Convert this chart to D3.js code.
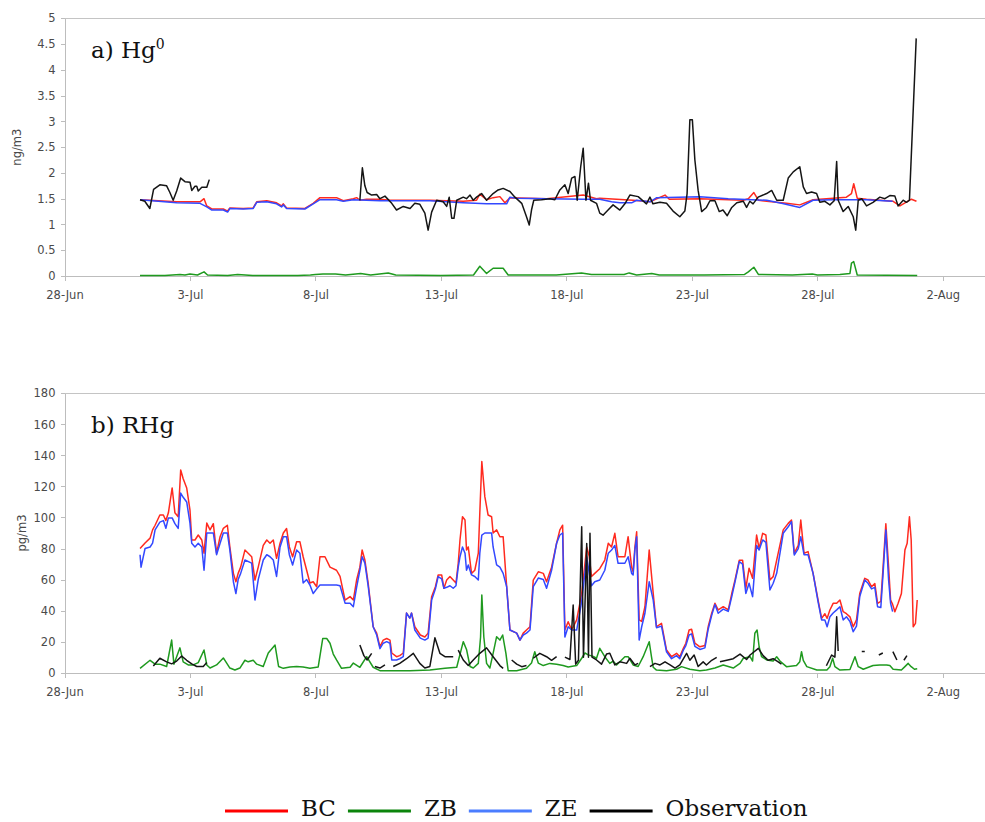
<!DOCTYPE html>
<html>
<head>
<meta charset="utf-8">
<script src="https://cdn.jsdelivr.net/npm/d3@7"></script>
<style>
  body { margin: 0; background: #fff; }
  svg { display: block; }
  .axis path, .axis line { stroke: #bdbdbd; shape-rendering: crispEdges; }
  .axis text { font-family: "DejaVu Sans", Verdana, sans-serif; font-size: 11.5px; fill: #4a4a4a; }
  .ylab { font-family: "DejaVu Sans", Verdana, sans-serif; font-size: 11.5px; fill: #4a4a4a; }
  .title, .legend text { font-family: "DejaVu Serif", serif; fill: #111; }
</style>
</head>
<body>
<svg id="chart" width="985" height="822"></svg>
<script>
// days are given as day-of-July (1 = 1-Jul 00:00), null = no data
const tickLabels = ['28-Jun', '3-Jul', '8-Jul', '13-Jul', '18-Jul', '23-Jul', '28-Jul', '2-Aug'];
const seriesNames = ['BC', 'ZB', 'ZE', 'Observation'];
const hgTicks = [0, 0.5, 1, 1.5, 2, 2.5, 3, 3.5, 4, 4.5, 5];
const rhgTicks = [0, 20, 40, 60, 80, 100, 120, 140, 160, 180];

// a) Hg0, ng/m3
const hgBC = [[1.01,1.48],[2.47,1.44],[3.40,1.44],[3.56,1.50],[3.67,1.36],[3.87,1.30],[4.33,1.30],[4.50,1.26],[4.59,1.32],[5.12,1.31],[5.52,1.32],[5.66,1.44],[6.06,1.46],[6.45,1.42],[6.65,1.36],[6.72,1.40],[6.85,1.32],[7.58,1.31],[7.91,1.41],[8.18,1.52],[8.84,1.52],[9.11,1.46],[9.51,1.50],[9.64,1.52],[9.77,1.47],[10.04,1.49],[10.57,1.49],[10.97,1.47],[12.56,1.47],[13.89,1.45],[14.42,1.47],[14.55,1.59],[14.82,1.48],[15.08,1.52],[15.35,1.54],[15.55,1.42],[15.75,1.52],[17.21,1.50],[18.67,1.57],[19.20,1.50],[19.33,1.51],[20.66,1.47],[21.33,1.44],[21.93,1.57],[22.10,1.49],[23.32,1.50],[25.05,1.47],[25.25,1.50],[25.47,1.62],[25.65,1.47],[25.98,1.45],[26.77,1.41],[27.30,1.38],[27.83,1.48],[28.63,1.51],[29.16,1.53],[29.36,1.60],[29.45,1.79],[29.59,1.51],[29.96,1.49],[31.02,1.45],[31.29,1.36],[31.75,1.49],[31.95,1.45]];
const hgZB = [[1.01,0.01],[2.0,0.01],[2.6,0.03],[2.8,0.02],[3.0,0.04],[3.3,0.02],[3.56,0.08],[3.7,0.02],[4.5,0.01],[4.9,0.03],[5.5,0.01],[7.3,0.01],[7.8,0.02],[8.0,0.03],[8.3,0.04],[8.8,0.04],[9.2,0.02],[9.8,0.05],[10.2,0.02],[10.9,0.06],[11.2,0.02],[13.0,0.01],[14.3,0.02],[14.55,0.19],[14.82,0.05],[15.08,0.15],[15.48,0.15],[15.68,0.02],[16.5,0.02],[17.6,0.02],[18.6,0.06],[19.0,0.03],[20.3,0.03],[20.5,0.06],[20.8,0.02],[21.4,0.05],[21.7,0.02],[23.5,0.02],[25.1,0.03],[25.25,0.08],[25.47,0.17],[25.65,0.03],[27.0,0.02],[27.8,0.04],[28.0,0.02],[28.9,0.03],[29.3,0.05],[29.36,0.25],[29.45,0.28],[29.59,0.02],[31.98,0.01]];
const hgZE = [[1.01,1.48],[2.47,1.42],[3.40,1.41],[3.67,1.34],[3.87,1.28],[4.33,1.28],[4.50,1.24],[4.59,1.31],[5.12,1.30],[5.52,1.31],[5.66,1.43],[6.06,1.44],[6.45,1.40],[6.65,1.34],[6.72,1.38],[6.85,1.31],[7.58,1.30],[7.91,1.40],[8.18,1.48],[8.84,1.48],[9.11,1.45],[9.51,1.48],[10.57,1.46],[12.56,1.46],[13.89,1.42],[14.82,1.40],[15.62,1.40],[15.75,1.53],[16.02,1.51],[17.21,1.50],[18.67,1.49],[19.33,1.49],[19.80,1.44],[20.13,1.42],[20.60,1.42],[20.80,1.47],[21.33,1.44],[21.60,1.52],[23.32,1.54],[24.45,1.50],[25.98,1.47],[26.57,1.41],[27.30,1.33],[27.83,1.47],[28.63,1.48],[29.96,1.48],[31.00,1.45]];
const hgObs = [[1.01,1.48],[1.20,1.45],[1.40,1.31],[1.55,1.68],[1.80,1.77],[2.07,1.75],[2.20,1.62],[2.33,1.47],[2.47,1.65],[2.63,1.90],[2.80,1.83],[3.00,1.82],[3.07,1.66],[3.20,1.74],[3.27,1.74],[3.33,1.65],[3.47,1.72],[3.67,1.72],[3.77,1.87],[3.80,null],
  [9.77,1.47],[9.87,2.10],[9.97,1.75],[10.06,1.62],[10.24,1.57],[10.44,1.58],[10.57,1.50],[10.77,1.55],[11.04,1.41],[11.23,1.28],[11.50,1.35],[11.77,1.31],[11.96,1.41],[12.16,1.39],[12.36,1.22],[12.49,0.89],[12.63,1.24],[12.83,1.47],[13.09,1.44],[13.23,1.35],[13.33,1.53],[13.43,1.12],[13.52,1.12],[13.63,1.47],[13.89,1.53],[14.02,1.50],[14.16,1.57],[14.29,1.47],[14.42,1.53],[14.62,1.60],[14.82,1.47],[15.08,1.60],[15.28,1.67],[15.48,1.70],[15.75,1.64],[15.95,1.53],[16.22,1.41],[16.41,1.15],[16.52,0.99],[16.61,1.28],[16.70,1.47],[17.01,1.48],[17.34,1.50],[17.54,1.48],[17.74,1.67],[17.94,1.77],[18.07,1.60],[18.21,1.90],[18.34,1.93],[18.43,1.47],[18.57,2.12],[18.67,2.48],[18.78,1.47],[18.88,1.80],[18.96,1.47],[19.20,1.41],[19.33,1.22],[19.46,1.18],[19.66,1.28],[19.86,1.38],[20.13,1.28],[20.33,1.40],[20.53,1.57],[20.86,1.54],[21.19,1.40],[21.33,1.53],[21.45,1.40],[21.73,1.43],[21.99,1.41],[22.25,1.26],[22.52,1.15],[22.72,1.26],[22.81,1.60],[22.92,3.03],[23.02,3.03],[23.12,2.25],[23.25,1.66],[23.39,1.25],[23.58,1.33],[23.72,1.46],[23.92,1.46],[24.09,1.25],[24.24,1.28],[24.41,1.17],[24.59,1.33],[24.79,1.42],[25.05,1.45],[25.18,1.33],[25.31,1.45],[25.44,1.40],[25.64,1.53],[25.98,1.60],[26.18,1.66],[26.38,1.47],[26.64,1.47],[26.84,1.90],[27.04,2.02],[27.30,2.12],[27.44,1.73],[27.57,1.60],[27.77,1.63],[27.97,1.60],[28.10,1.43],[28.30,1.45],[28.50,1.38],[28.67,1.46],[28.77,2.22],[28.83,1.47],[29.03,1.25],[29.23,1.35],[29.43,1.15],[29.53,0.89],[29.63,1.47],[29.77,1.50],[29.96,1.36],[30.22,1.43],[30.49,1.53],[30.69,1.50],[30.89,1.56],[31.09,1.55],[31.22,1.36],[31.42,1.47],[31.55,1.43],[31.67,1.47],[31.94,4.61]];

// b) RHg, pg/m3
const rhgBC = [[1.01,80],[1.21,83.5],[1.41,86.7],[1.51,92],[1.61,95],[1.80,101.6],[1.94,101.6],[2.04,98],[2.14,103],[2.29,119],[2.40,103],[2.53,100.5],[2.63,130.6],[2.73,125],[2.87,119],[3.00,104.8],[3.07,85.5],[3.20,85.5],[3.33,88.7],[3.47,85.5],[3.56,77],[3.67,96.4],[3.80,92],[3.93,96],[4.06,77],[4.20,87.6],[4.33,93],[4.49,95],[4.59,81],[4.73,64],[4.83,58.6],[4.92,64],[5.02,68],[5.19,79],[5.46,74.7],[5.59,59.7],[5.72,68],[5.92,82],[6.06,85.5],[6.19,83.4],[6.32,85.5],[6.45,73.7],[6.59,83.4],[6.72,90],[6.85,92.9],[6.96,81],[7.09,74.7],[7.25,84.4],[7.38,84.4],[7.51,74.7],[7.65,66],[7.78,57.8],[7.91,58.6],[8.05,55.4],[8.18,74.7],[8.38,74.7],[8.58,68],[8.84,66],[8.98,62],[9.18,46.8],[9.38,49],[9.51,46.8],[9.64,59.7],[9.77,68],[9.86,79],[9.97,72.6],[10.10,57.8],[10.30,29.6],[10.44,25.5],[10.57,16.7],[10.70,21],[10.84,22],[10.97,21],[11.04,12.7],[11.23,10.3],[11.36,11],[11.50,12.7],[11.63,38.4],[11.76,35.2],[11.83,38.4],[11.96,29.6],[12.18,24.3],[12.36,23],[12.49,25.5],[12.63,49],[12.78,55.4],[12.89,63],[13.03,63],[13.12,54.4],[13.23,59.7],[13.36,62],[13.49,59.7],[13.60,57.8],[13.69,70.5],[13.76,85.5],[13.86,100.5],[13.96,98.4],[14.02,79],[14.09,81],[14.22,64],[14.35,66],[14.49,77],[14.55,103],[14.63,136],[14.75,113.4],[14.88,101.6],[15.02,100.5],[15.08,90],[15.22,92],[15.35,87.6],[15.48,87.6],[15.62,55.4],[15.75,27.5],[16.02,25.5],[16.15,21],[16.28,25.5],[16.41,27.5],[16.55,29.6],[16.68,59.7],[16.88,65],[17.08,64],[17.21,58.6],[17.41,68],[17.61,83.4],[17.74,92],[17.85,95],[17.94,27.5],[18.07,32.8],[18.21,27.5],[18.41,34],[18.61,51],[18.81,81],[18.91,75],[19.00,62],[19.13,64],[19.33,67],[19.53,72.6],[19.67,83.4],[19.80,81],[19.93,89.8],[20.06,74.7],[20.20,74.7],[20.33,74.7],[20.46,87.6],[20.60,68],[20.66,65],[20.73,81],[20.80,90.8],[20.90,34],[21.00,33],[21.13,42.5],[21.30,79],[21.46,51],[21.59,29.6],[21.79,31.8],[21.99,14.6],[22.19,10.3],[22.39,12.5],[22.52,10.3],[22.66,15.7],[22.76,19],[22.89,27.5],[22.99,28],[23.12,19],[23.32,16.7],[23.52,17.5],[23.65,29.6],[23.79,38.3],[23.92,44.7],[24.05,40.4],[24.25,42.5],[24.45,40.4],[24.59,51],[24.72,59.7],[24.89,72.5],[25.02,72.5],[25.15,54.4],[25.28,67.3],[25.42,60.8],[25.58,88.7],[25.68,80],[25.82,89.8],[25.95,88.7],[26.11,59.7],[26.24,61.9],[26.38,72.5],[26.64,92],[26.84,96.2],[26.97,98.4],[27.08,77],[27.24,82],[27.34,98.4],[27.47,77],[27.63,78],[27.83,64],[28.03,46.8],[28.17,35],[28.30,38],[28.39,35],[28.50,40.4],[28.63,44.7],[28.77,44.7],[28.90,46.8],[29.03,39.3],[29.16,38],[29.30,36],[29.43,29.6],[29.56,34],[29.69,51],[29.89,60.8],[30.02,59.7],[30.16,55.4],[30.29,57.5],[30.40,44.7],[30.53,46],[30.62,68],[30.73,96],[30.84,68],[30.92,46.8],[31.00,44],[31.09,39.3],[31.22,44.7],[31.35,51],[31.49,79],[31.58,83.4],[31.67,100.5],[31.74,85.5],[31.82,29.6],[31.91,31.8],[31.98,46.8]];
const rhgZB = [[1.01,2.8],[1.41,8],[1.61,5.5],[1.80,5.5],[2.07,4],[2.27,21],[2.36,5.5],[2.60,16],[2.73,7],[2.93,5],[3.13,5],[3.33,6.5],[3.56,14.6],[3.67,5],[3.80,3],[4.06,5],[4.33,9.5],[4.59,3],[4.79,1.7],[4.99,3],[5.19,8],[5.32,7],[5.52,8],[5.66,5.5],[5.92,4],[6.12,12.7],[6.39,17.8],[6.53,4],[6.72,2.8],[6.98,3.7],[7.25,4],[7.51,3.7],[7.78,2.8],[8.11,3.7],[8.29,22],[8.45,22],[8.58,19],[8.71,12],[8.84,8.2],[9.04,2.8],[9.38,3.5],[9.51,6.2],[9.77,3.5],[10.04,10.3],[10.30,3.5],[10.57,1.3],[11.23,1.3],[11.76,1.3],[12.56,1.7],[13.16,2.8],[13.63,3.5],[13.89,20],[14.02,15],[14.16,4],[14.29,3],[14.49,6],[14.58,23],[14.63,50],[14.71,23],[14.82,6],[14.95,3],[15.08,12.5],[15.22,23.2],[15.35,21],[15.46,24.3],[15.59,12.5],[15.68,1.3],[16.02,1.3],[16.41,2.8],[16.61,6.2],[16.74,13.5],[16.88,6.2],[17.08,4.6],[17.34,6],[17.61,5.5],[17.87,4.6],[18.07,3.7],[18.41,4.6],[18.61,9.3],[18.74,12.7],[18.87,11.5],[19.07,10.5],[19.20,9.3],[19.33,15.7],[19.53,10.3],[19.73,6],[19.86,7.5],[20.00,5],[20.20,8.2],[20.33,10.3],[20.46,10.3],[20.66,5],[20.86,4],[21.06,10.3],[21.30,20],[21.39,10.3],[21.46,3.5],[21.59,1.7],[21.99,1.3],[22.39,2.2],[22.59,3.9],[22.92,2.2],[23.32,1.3],[23.58,1.7],[23.92,3],[24.25,5],[24.45,4],[24.65,3],[24.92,6],[25.05,9.3],[25.32,10.3],[25.42,7.5],[25.51,25.4],[25.60,27.5],[25.68,16.7],[25.78,10.3],[25.98,8.2],[26.24,7.5],[26.38,10.3],[26.51,7.5],[26.77,3.9],[27.17,4.6],[27.30,7.1],[27.37,13.5],[27.44,8],[27.58,3.9],[27.98,1.7],[28.38,1.7],[28.50,3.9],[28.61,9.3],[28.70,3.9],[28.90,1.7],[29.30,2],[29.50,10.3],[29.63,3.9],[29.83,2.2],[30.22,4.6],[30.49,5],[30.76,5],[30.89,4.6],[31.02,2.2],[31.35,1.7],[31.49,3.9],[31.62,6],[31.74,3.9],[31.87,2.2],[31.98,2.5]];
const rhgZE = [[1.01,76],[1.05,68],[1.21,80],[1.41,81],[1.51,83.5],[1.61,92],[1.80,97],[1.94,98],[2.04,93],[2.14,99.7],[2.29,99.7],[2.40,96],[2.53,93],[2.63,115.7],[2.73,113],[2.87,110],[3.00,96.4],[3.07,83.4],[3.20,81],[3.33,83.4],[3.47,81],[3.56,66],[3.67,90],[3.80,90],[3.93,90],[4.06,76],[4.20,83.4],[4.33,90],[4.49,90],[4.59,79],[4.73,58.6],[4.83,51],[4.92,60],[5.02,64],[5.19,72.6],[5.46,70.6],[5.59,46.8],[5.72,60],[5.92,72.6],[6.06,76],[6.19,74.7],[6.32,72.6],[6.45,62],[6.59,81],[6.72,87.6],[6.85,87.6],[6.96,76],[7.09,69.4],[7.25,79],[7.38,77],[7.51,57.8],[7.65,60],[7.78,56.5],[7.91,51],[8.05,54],[8.18,56.5],[8.38,56.5],[8.58,56.5],[8.84,56.5],[8.98,56],[9.18,44.8],[9.38,44.8],[9.51,42.5],[9.64,55],[9.77,66],[9.86,74.7],[9.97,70.6],[10.10,56],[10.30,29.6],[10.44,24.3],[10.57,15.5],[10.70,19],[10.84,20],[10.97,19],[11.04,8.2],[11.23,8.2],[11.36,9],[11.50,10.3],[11.63,38.4],[11.76,35.2],[11.83,38.4],[11.96,27.5],[12.18,22.3],[12.36,21],[12.49,22.3],[12.63,46.8],[12.78,54],[12.89,61.9],[13.03,60.5],[13.12,54.4],[13.23,55],[13.36,56],[13.49,54.4],[13.60,56],[13.69,68],[13.76,74.7],[13.86,81],[13.96,77],[14.02,66],[14.09,69.4],[14.22,63],[14.35,62],[14.49,59.7],[14.55,77],[14.63,88.7],[14.75,90],[14.88,90],[15.02,90],[15.08,81],[15.22,69.4],[15.35,68],[15.48,64],[15.62,55.4],[15.75,27.5],[16.02,25.5],[16.15,21],[16.28,24.3],[16.41,25.5],[16.55,27.5],[16.68,55.4],[16.88,61],[17.08,60],[17.21,54.4],[17.41,66],[17.61,83.4],[17.74,88.7],[17.85,90],[17.94,23],[18.07,29.6],[18.21,27.5],[18.41,27.5],[18.61,46],[18.81,74.7],[18.91,64],[19.00,56],[19.13,58.6],[19.33,59.7],[19.53,66],[19.67,77],[19.80,79],[19.93,82],[20.06,70.5],[20.20,70.5],[20.33,70.5],[20.46,74.7],[20.60,64],[20.66,63],[20.73,79],[20.80,87.6],[20.90,21],[21.00,29.6],[21.13,38.3],[21.30,58.6],[21.46,46.8],[21.59,29],[21.79,30],[21.99,13.5],[22.19,9],[22.39,11],[22.52,9],[22.66,14.5],[22.76,17.5],[22.89,24.3],[22.99,25],[23.12,17],[23.32,15],[23.52,16],[23.65,28],[23.79,37],[23.92,44],[24.05,38.3],[24.25,41],[24.45,39.5],[24.59,49],[24.72,58.6],[24.89,71.5],[25.02,70],[25.15,51],[25.28,57.6],[25.42,49],[25.58,82],[25.68,79],[25.82,85.5],[25.95,84],[26.11,53.3],[26.24,57.6],[26.38,64],[26.64,89.8],[26.84,94],[26.97,97.3],[27.08,75.8],[27.24,80],[27.34,87.6],[27.47,76],[27.63,76],[27.83,64],[28.03,45.7],[28.17,34],[28.30,34],[28.39,29.6],[28.50,36],[28.63,38.5],[28.77,40.5],[28.90,42.5],[29.03,34],[29.16,36],[29.30,33],[29.43,26.4],[29.56,30],[29.69,49],[29.89,59.7],[30.02,57.6],[30.16,54],[30.29,55],[30.40,42.5],[30.53,42],[30.62,64],[30.73,92],[30.84,59.7],[30.92,44.7],[31.00,39.3]];
const rhgObs = [[1.54,4.3],[1.80,9.3],[2.07,7],[2.27,5.7],[2.47,7.5],[2.67,10.7],[2.87,8],[3.07,5.7],[3.27,4],[3.53,4],[3.67,6.5],[3.70,null],
  [9.77,17.8],[9.93,11],[10.06,8.2],[10.24,12.5],[10.30,null],[10.37,4],[10.57,3],[10.77,5],[10.90,null],[11.10,4],[11.36,6],[11.63,9],[11.90,12.5],[12.16,6],[12.36,3],[12.56,4],[12.76,22.5],[12.96,12.5],[13.16,10.3],[13.49,10.3],[13.55,null],[13.69,14.6],[13.89,8.2],[14.09,4.6],[14.29,8.2],[14.55,12.5],[14.82,16],[15.08,10.3],[15.35,4.6],[15.48,2.8],[15.60,null],[15.82,8.2],[16.02,5.5],[16.22,3.9],[16.41,4.6],[16.50,null],[16.68,9.3],[16.94,12.5],[17.21,10.3],[17.41,8],[17.61,10.3],[17.75,null],[17.94,10],[18.14,8.5],[18.27,43.6],[18.37,5.5],[18.48,8],[18.61,94],[18.68,10],[18.81,83.3],[18.88,10],[18.94,89.8],[19.02,10],[19.20,8.2],[19.40,5.5],[19.60,12],[19.73,12.5],[19.93,5],[20.13,7],[20.40,6],[20.53,9.3],[20.73,5],[20.86,6],[21.00,null],[21.33,3.9],[21.53,6],[21.73,5],[21.93,7],[22.13,5],[22.33,3],[22.52,5],[22.79,12.5],[22.92,8],[23.09,11.4],[23.25,4],[23.45,7],[23.58,5],[23.79,8],[23.99,9.9],[24.05,null],[24.12,7],[24.39,8],[24.65,9],[24.92,12],[25.18,8.5],[25.32,11.4],[25.65,15.7],[25.84,11],[26.04,8],[26.24,9],[26.44,7],[26.57,5.5],[26.70,null],
  [28.36,4.5],[28.57,11.4],[28.70,10],[28.77,36],[28.83,14],[28.90,null],[29.77,13.6],[29.89,13.6],[30.00,null],[30.45,11.4],[30.61,12.7],[30.70,null],[31.01,13.6],[31.17,8.2],[31.30,null],[31.45,8],[31.57,11]];

const seriesColors = ['#ff2a1f', '#1f9a1f', '#3348ff', '#151515'];
const legendColors = ['#ff0000', '#0b840b', '#4a7dff', '#000000'];

const parseTick = d3.timeParse('%d-%b-%Y');
const july1 = new Date(2013, 6, 1).getTime();
const toDate = d => new Date(july1 + (d - 1) * 864e5);

class LineChart {
    constructor(_config, _series) {
        this.config = {
            parentElement: _config.parentElement,
            top: _config.top,
            bottom: _config.bottom,
            left: 64.5,
            right: 993,
            yMax: _config.yMax,
            yTicks: _config.yTicks,
            yFormat: _config.yFormat,
            yLabel: _config.yLabel,
            yLabelX: _config.yLabelX,
            title: _config.title,
            sup: _config.sup
        }
        this.series = _series;
        this.initVis();
    }
    initVis() {
        let vis = this;
        let c = vis.config;
        vis.svg = d3.select(c.parentElement);

        vis.xScale = d3.scaleTime()
            .domain([parseTick('28-Jun-2013'), parseTick('4-Aug-2013')])
            .range([c.left, c.right]);
        vis.yScale = d3.scaleLinear()
            .domain([0, c.yMax])
            .range([c.bottom, c.top]);

        vis.g = vis.svg.append('g');

        // top border
        vis.g.append('line')
            .attr('x1', c.left).attr('x2', c.right)
            .attr('y1', vis.yScale(c.yMax)).attr('y2', vis.yScale(c.yMax))
            .attr('stroke', '#c4c4c4').attr('shape-rendering', 'crispEdges');

        vis.xAxis = d3.axisBottom(vis.xScale)
            .tickValues(tickLabels.map(t => parseTick(t + '-2013')))
            .tickFormat(d3.timeFormat('%-d-%b'))
            .tickSizeInner(5).tickSizeOuter(0).tickPadding(10);
        vis.yAxis = d3.axisLeft(vis.yScale)
            .tickValues(c.yTicks)
            .tickFormat(c.yFormat)
            .tickSizeInner(4).tickSizeOuter(0).tickPadding(5);

        vis.g.append('g')
            .attr('class', 'axis x-axis')
            .attr('transform', `translate(0,${c.bottom})`)
            .call(vis.xAxis);
        vis.g.append('g')
            .attr('class', 'axis y-axis')
            .attr('transform', `translate(${c.left},0)`)
            .call(vis.yAxis);

        vis.g.append('text')
            .attr('class', 'ylab')
            .attr('transform', `translate(${c.yLabelX},${(c.top + c.bottom) / 2}) rotate(-90)`)
            .attr('text-anchor', 'middle')
            .attr('dy', '0.35em')
            .text(c.yLabel);

        let t = vis.g.append('text')
            .attr('class', 'title')
            .attr('x', 91)
            .attr('y', c.top + 40)
            .attr('font-size', 23)
            .text(c.title);
        if (c.sup) {
            t.append('tspan').attr('font-size', 14).attr('dy', -9).text(c.sup);
        }

        vis.updateVis();
    }
    updateVis() {
        let vis = this;
        vis.line = d3.line()
            .defined(d => d[1] != null)
            .x(d => vis.xScale(toDate(d[0])))
            .y(d => vis.yScale(d[1]));

        vis.g.selectAll('.series')
            .data(vis.series)
            .enter()
            .append('path')
            .attr('class', 'series')
            .attr('fill', 'none')
            .attr('stroke', (s, i) => seriesColors[i])
            .attr('stroke-width', 1.5)
            .attr('stroke-linejoin', 'round')
            .attr('d', s => vis.line(s));
    }
}

let hgChart = new LineChart({
    parentElement: '#chart', top: 18.3, bottom: 276, yMax: 5,
    yTicks: hgTicks, yFormat: d3.format('~g'),
    yLabel: 'ng/m3', yLabelX: 17, title: 'a) Hg', sup: '0'
}, [hgBC, hgZB, hgZE, hgObs]);

let rhgChart = new LineChart({
    parentElement: '#chart', top: 393.3, bottom: 672.7, yMax: 180,
    yTicks: rhgTicks, yFormat: d3.format('d'),
    yLabel: 'pg/m3', yLabelX: 22, title: 'b) RHg'
}, [rhgBC, rhgZB, rhgZE, rhgObs]);

// legend
let legend = d3.select('#chart').append('g').attr('class', 'legend');
let lx = 225;
seriesNames.forEach((name, i) => {
    legend.append('line')
        .attr('x1', lx).attr('x2', lx + 63)
        .attr('y1', 811).attr('y2', 811)
        .attr('stroke', legendColors[i]).attr('stroke-width', 3);
    let txt = legend.append('text')
        .attr('x', lx + 76).attr('y', 816)
        .attr('font-size', 23)
        .text(name);
    lx += 76 + txt.node().getComputedTextLength() + 12;
});
</script>
</body>
</html>
